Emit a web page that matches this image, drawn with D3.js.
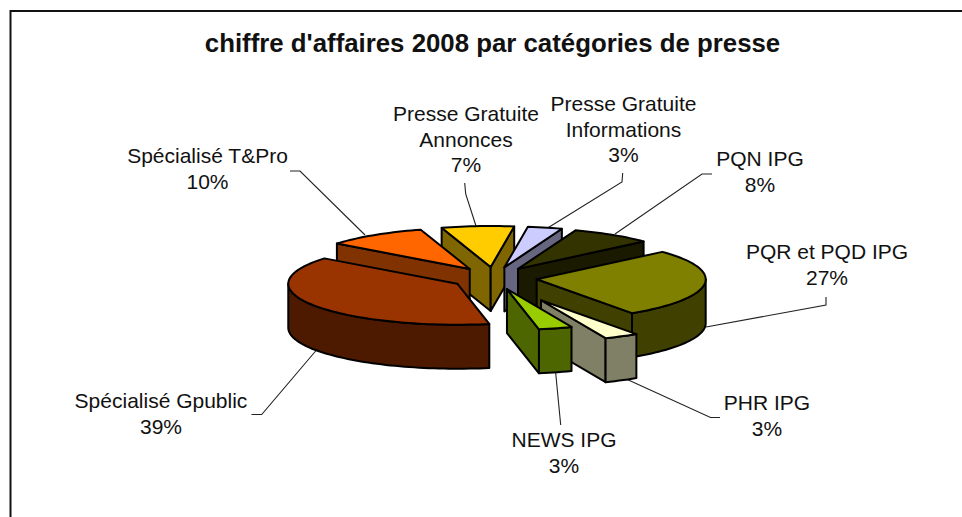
<!DOCTYPE html>
<html lang="fr">
<head>
<meta charset="utf-8">
<style>
html,body{margin:0;padding:0;background:#fff;overflow:hidden}
svg{display:block}
text{font-family:"Liberation Sans",Arial,sans-serif;fill:#111}
</style>
<script src="https://cdn.jsdelivr.net/npm/d3@7"></script>
</head>
<body>
<script>
const chartTitle = "chiffre d'affaires 2008 par catégories de presse";
const categories = ["Presse Gratuite Informations","PQN IPG","PQR et PQD IPG","PHR IPG","NEWS IPG","Spécialisé Gpublic","Spécialisé T&Pro","Presse Gratuite Annonces"];
const values = [3.3,7.8,27.1,3.3,3.2,38.6,9.7,6.9];
const topColors = ["#ccccff","#333300","#808000","#ffffcc","#99cc00","#993300","#ff6600","#ffcc00"];
const sideColors = ["#666680","#1a1a00","#404000","#808066","#4d6600","#4d1a00","#803300","#806600"];
const explosion = [1,1,1,2.3,1.05,1,1,1];
const labelLines = [["Presse Gratuite","Informations"],["PQN IPG"],["PQR et PQD IPG"],["PHR IPG"],["NEWS IPG"],["Spécialisé Gpublic"],["Spécialisé T&Pro"],["Presse Gratuite","Annonces"]];
const labelAnchors = [[623.5,111],[760,166],[827,259],[767,410],[564,447],[161,408],[207.5,163],[466,121]];
const leaders = [
  [[622.7,173],[622,182],[546,229]],
  [[712,174],[702,174],[615,234]],
  [[826,297],[826,305],[706,327]],
  [[624,378],[710.5,417.5],[720,417.5]],
  [[555.5,371],[560.7,425]],
  [[316.5,350],[261.7,414.5],[251.5,414.5]],
  [[290,171],[300,171],[365,235]],
  [[464.7,183],[465.7,194],[476,226]]
];

const W = 962, H = 517;
const cx = 494, cy = 278, rx = 169, ry = 41, depth = 44, offX = 43, offY = 11;
const lineHeight = 25.6;
const startDeg = 8;

const svg = d3.select("body").append("svg").attr("width", W).attr("height", H);
svg.append("rect").attr("width", W).attr("height", H).attr("fill", "#fff");

// frame: only top and left edges fall inside the picture
svg.append("path").attr("d", d3.line()([[962,11],[10.5,11],[10.5,517]]))
  .attr("fill","none").attr("stroke","#111").attr("stroke-width",2);

svg.append("text").attr("x",492.5).attr("y",52).attr("text-anchor","middle")
  .attr("font-size",25.8).attr("font-weight","bold").text(chartTitle);

// leaders
svg.append("g").selectAll("path").data(leaders).join("path")
  .attr("d", d3.line()).attr("fill","none").attr("stroke","#222").attr("stroke-width",1.1);

// labels
const pct = d3.format(".0%");
const total = d3.sum(values);
const lbl = svg.append("g").selectAll("text").data(categories).join("text")
  .attr("text-anchor","middle").attr("font-size",21);
lbl.each(function(_, i){
  const t = d3.select(this);
  const lines = labelLines[i].concat(pct(values[i]/total));
  lines.forEach((s,j)=>t.append("tspan").attr("x",labelAnchors[i][0]).attr("y",labelAnchors[i][1]+j*lineHeight).text(s));
});

// pie geometry
const start = startDeg*Math.PI/180;
const arcs = d3.pie().sort(null).startAngle(start).endAngle(start+2*Math.PI)(values);
const slices = arcs.map(a=>{
  const i = a.index, mid = (a.startAngle+a.endAngle)/2, e = explosion[i];
  const ax = cx + e*offX*Math.sin(mid), ay = cy - e*offY*Math.cos(mid);
  const rim = t=>[ax+rx*Math.sin(t), ay-ry*Math.cos(t)];
  return {i, mid, a0:a.startAngle, a1:a.endAngle, apex:[ax,ay], rim};
});
const line = d3.line();
const sample = (s,t0,t1)=>{
  const n = Math.max(2,Math.ceil((t1-t0)/0.03));
  return d3.range(n+1).map(k=>s.rim(t0+(t1-t0)*k/n));
};
const down = p=>[p[0],p[1]+depth];
const wallVisible = (s,t)=>{
  const A=s.apex, R=s.rim(t), M=s.rim(s.mid);
  const vx=R[0]-A[0], vy=R[1]-A[1], wx=M[0]-A[0], wy=M[1]-A[1];
  return Math.sign(vx||1)*(vx*wy-vy*wx) < 0;
};
// back-to-front order
const order = slices.slice().sort((p,q)=>d3.descending(Math.cos(p.mid),Math.cos(q.mid)));
const g = svg.append("g").attr("stroke","#000").attr("stroke-width",2).attr("stroke-linejoin","round");
order.forEach(s=>{
  const gs = g.append("g");
  [s.a0,s.a1].filter(t=>wallVisible(s,t)).forEach(t=>{
    const R=s.rim(t);
    gs.append("path").attr("d",line([s.apex,R,down(R),down(s.apex)])+"Z").attr("fill",sideColors[s.i]);
  });
  const lo=Math.max(s.a0,Math.PI/2), hi=Math.min(s.a1,3*Math.PI/2);
  if(hi>lo){
    const top=sample(s,lo,hi);
    gs.append("path").attr("d",line(top.concat(top.slice().reverse().map(down)))+"Z").attr("fill",sideColors[s.i]);
  }
  gs.append("path").attr("d",line([s.apex].concat(sample(s,s.a0,s.a1)))+"Z").attr("fill",topColors[s.i]);
});
</script>
</body>
</html>
